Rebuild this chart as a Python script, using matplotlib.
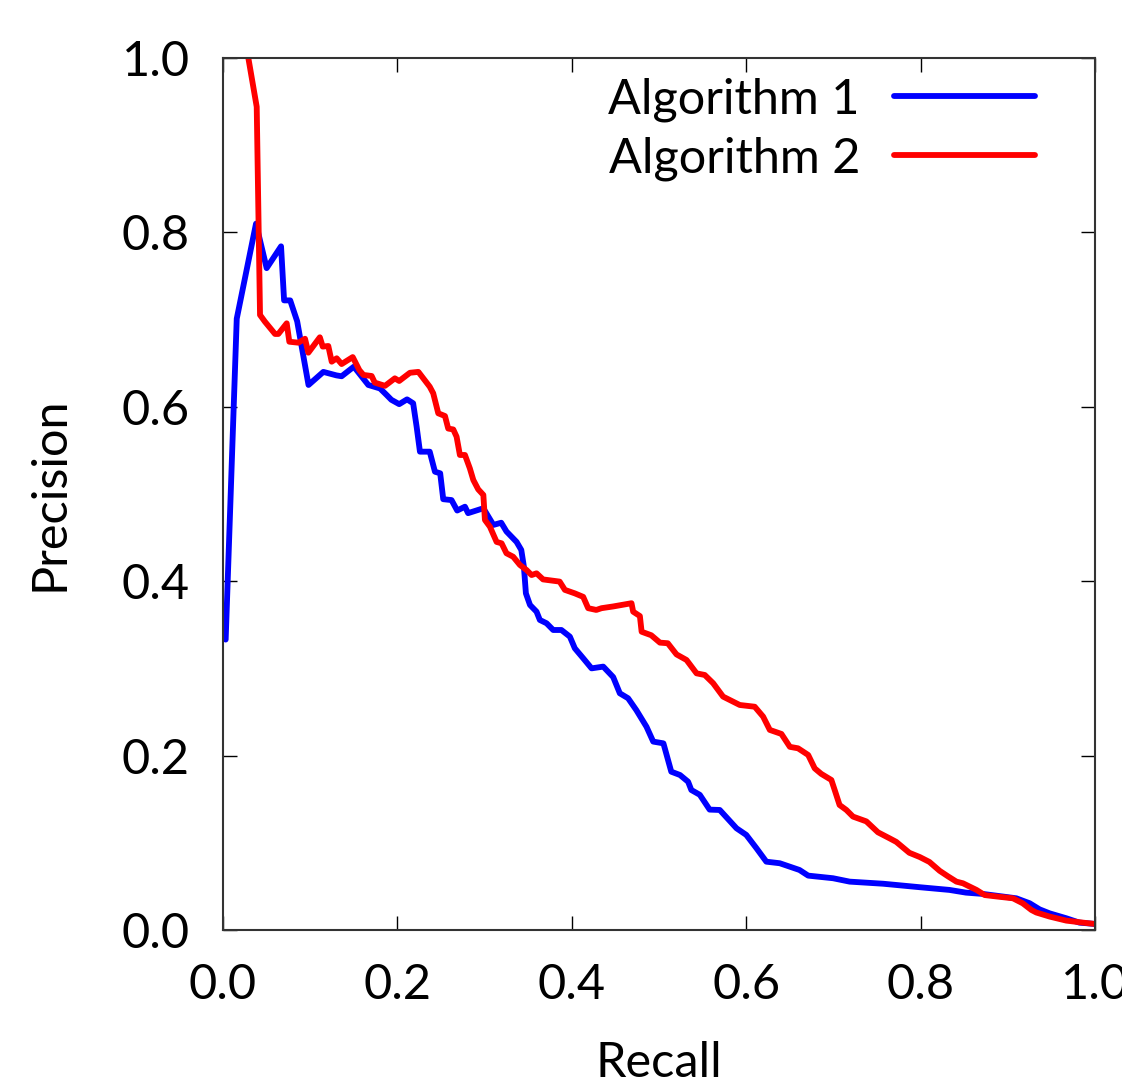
import matplotlib
matplotlib.use("Agg")
import matplotlib.pyplot as plt

# Algorithm 1 (blue)
recall_1 = [0.003, 0.0157, 0.0378, 0.050, 0.0665, 0.070, 0.077, 0.085, 0.098, 0.115, 0.130, 0.136,
            0.150, 0.1666, 0.180, 0.1876, 0.193, 0.202, 0.211, 0.218, 0.222, 0.2258, 0.237, 0.243,
            0.249, 0.2525, 0.262, 0.2685, 0.2774, 0.281, 0.2985, 0.310, 0.319, 0.325, 0.3366, 0.342,
            0.345, 0.3473, 0.352, 0.3595, 0.3633, 0.371, 0.3786, 0.388, 0.3977, 0.4034, 0.413, 0.4226,
            0.436, 0.4474, 0.455, 0.4645, 0.474, 0.4856, 0.4933, 0.505, 0.514, 0.524, 0.5333, 0.537,
            0.5467, 0.558, 0.5696, 0.5888, 0.600, 0.6117, 0.623, 0.6384, 0.661, 0.671, 0.6995, 0.7186,
            0.757, 0.799, 0.833, 0.852, 0.8714, 0.9097, 0.925, 0.9364, 0.948, 0.967, 0.982, 0.9994]
precision_1 = [0.333, 0.701, 0.810, 0.759, 0.784, 0.722, 0.722, 0.698, 0.625, 0.640, 0.636, 0.635,
               0.646, 0.625, 0.621, 0.6135, 0.608, 0.603, 0.6085, 0.604, 0.577, 0.5485, 0.5485, 0.5255,
               0.5237, 0.494, 0.493, 0.481, 0.4854, 0.478, 0.4836, 0.4645, 0.467, 0.457, 0.445, 0.4358,
               0.4166, 0.386, 0.3727, 0.365, 0.3555, 0.3517, 0.344, 0.344, 0.3364, 0.323, 0.3116, 0.300,
               0.302, 0.290, 0.2714, 0.2657, 0.252, 0.233, 0.216, 0.214, 0.1815, 0.1777, 0.170, 0.1605,
               0.155, 0.138, 0.1376, 0.1166, 0.109, 0.0937, 0.0783, 0.0765, 0.0688, 0.0623, 0.0593, 0.0554,
               0.053, 0.049, 0.0459, 0.0428, 0.0413, 0.0363, 0.0306, 0.0236, 0.019, 0.0134, 0.0084, 0.0069]

# Algorithm 2 (red)
recall_2 = [0.029, 0.0386, 0.0424, 0.048, 0.0596, 0.0634, 0.073, 0.076, 0.0863, 0.094, 0.0978, 0.111,
            0.1143, 0.1207, 0.1246, 0.1303, 0.136, 0.1487, 0.1563, 0.161, 0.1704, 0.174, 0.1857, 0.197,
            0.202, 0.2143, 0.224, 0.237, 0.241, 0.2468, 0.2545, 0.2582, 0.264, 0.2678, 0.2716, 0.2774,
            0.283, 0.287, 0.2926, 0.2985, 0.3003, 0.306, 0.3137, 0.3194, 0.325, 0.3327, 0.3404, 0.348,
            0.3538, 0.3595, 0.367, 0.386, 0.392, 0.4034, 0.413, 0.4187, 0.428, 0.434, 0.4474, 0.4684,
            0.4703, 0.478, 0.480, 0.491, 0.501, 0.510, 0.520, 0.5315, 0.543, 0.5524, 0.562, 0.5734,
            0.5925, 0.6097, 0.6193, 0.627, 0.6403, 0.650, 0.6594, 0.671, 0.6785, 0.686, 0.6976, 0.7014,
            0.707, 0.7148, 0.7224, 0.7377, 0.751, 0.7645, 0.772, 0.787, 0.799, 0.810, 0.8218, 0.8313,
            0.841, 0.8485, 0.864, 0.8734, 0.8905, 0.9058, 0.917, 0.927, 0.9326, 0.948, 0.967, 0.986, 0.9994]
precision_2 = [1.000, 0.944, 0.7053, 0.6976, 0.6835, 0.6835, 0.6957, 0.6746, 0.6735, 0.678, 0.662, 0.6797,
               0.669, 0.6697, 0.6517, 0.6556, 0.649, 0.657, 0.642, 0.6365, 0.6353, 0.6277, 0.624, 0.6326,
               0.6296, 0.639, 0.640, 0.623, 0.6155, 0.5925, 0.5894, 0.575, 0.574, 0.5657, 0.5447, 0.5447,
               0.5294, 0.516, 0.5053, 0.4989, 0.4702, 0.4625, 0.445, 0.4434, 0.432, 0.428, 0.4186, 0.4128,
               0.407, 0.409, 0.402, 0.3995, 0.390, 0.386, 0.382, 0.369, 0.367, 0.369, 0.371, 0.3747,
               0.365, 0.360, 0.342, 0.338, 0.3295, 0.3288, 0.316, 0.3096, 0.2943, 0.2924, 0.283, 0.2676,
               0.258, 0.256, 0.2447, 0.2294, 0.2248, 0.210, 0.2083, 0.2007, 0.1853, 0.179, 0.172, 0.1605,
               0.1433, 0.1376, 0.130, 0.1245, 0.1120, 0.105, 0.101, 0.0885, 0.0836, 0.078, 0.0678, 0.0615,
               0.0554, 0.0535, 0.0459, 0.040, 0.038, 0.0363, 0.0306, 0.0229, 0.020, 0.0153, 0.0107, 0.0084, 0.0069]

labels = ["Algorithm 1", "Algorithm 2"]
ticks = [0.0, 0.2, 0.4, 0.6, 0.8, 1.0]
tick_labels = ["0.0", "0.2", "0.4", "0.6", "0.8", "1.0"]

plt.rcParams['font.family'] = ['Lato', 'DejaVu Sans']

fig = plt.figure(figsize=(11.22, 10.92), dpi=100)
ax = fig.add_axes([0.1988, 0.1484, 0.7772, 0.7985])

ax.plot(recall_1, precision_1, color='#0000ff', lw=4.2, label=labels[0], solid_joinstyle='round', solid_capstyle='round')
ax.plot(recall_2, precision_2, color='#ff0000', lw=4.2, label=labels[1], solid_joinstyle='round', solid_capstyle='round')

ax.set_xlim(0, 1)
ax.set_ylim(0, 1)
ax.set_xticks(ticks)
ax.set_xticklabels(tick_labels)
ax.set_yticks(ticks)
ax.set_yticklabels(tick_labels)
ax.tick_params(direction='in', length=10, width=1.0, labelsize=35, pad=24,
               top=True, right=True, colors='black')
for s in ax.spines.values():
    s.set_linewidth(1.5)
    s.set_color('#333333')

ax.set_xlabel("Recall", fontsize=35, labelpad=24)
ax.set_ylabel("Precision", fontsize=35, labelpad=36)

leg = ax.legend(loc='upper right', bbox_to_anchor=(0.931, 0.978), frameon=False,
                fontsize=35, markerfirst=False, handlelength=2.9, handletextpad=0.7,
                labelspacing=0.3, borderpad=0, borderaxespad=0)

fig.savefig("out.png", dpi=100)
